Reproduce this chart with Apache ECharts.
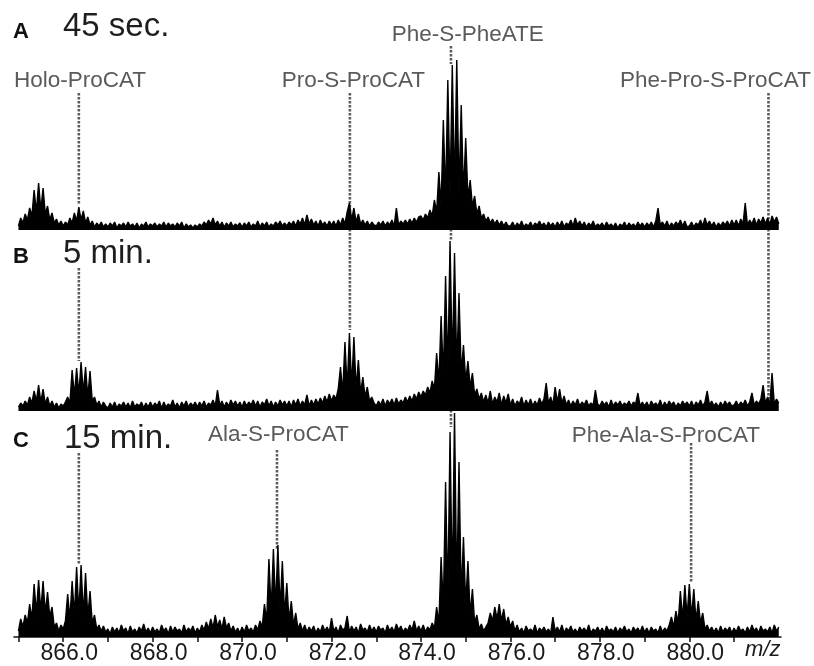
<!DOCTYPE html>
<html>
<head>
<meta charset="utf-8">
<script src="https://cdn.jsdelivr.net/npm/echarts@6/dist/echarts.min.js"></script>
<style>
  html, body { margin: 0; padding: 0; background: #fff; }
  #chart { width: 814px; height: 666px; }
</style>
</head>
<body>
<div id="chart"></div>
<script>
// m/z sampling grid shared by the three spectra
const MZ_START = 865.0;
const MZ_STEP = 0.05;

// Intensity (a.u.) per grid step; each row covers one m/z unit (865.00 ... 865.95, 866.00 ...)
const spectrumA = [
  4,12,7,16,10,22,14,40,18,47,20,42,16,24,10,17,7,11,5,9,
  4,8,5,12,7,17,9,23,10,19,7,13,5,9,3,7,4,8,3,6,
  3,7,4,8,2,6,4,7,3,8,4,6,3,7,2,6,4,8,3,6,
  4,7,3,6,4,8,3,7,4,6,3,7,4,8,2,6,3,5,2,5,
  3,6,4,8,5,10,6,12,5,9,4,8,3,7,4,8,3,6,4,7,
  3,7,4,8,3,6,4,9,3,7,4,8,3,6,4,8,5,9,4,7,
  4,8,5,9,4,10,6,12,5,15,6,11,5,9,4,10,5,8,4,9,
  5,9,4,10,5,12,6,18,27,10,22,8,16,6,10,5,9,4,8,5,
  4,8,5,9,4,8,5,10,4,22,5,9,6,10,6,11,7,12,8,13,
  14,10,16,12,20,14,30,18,58,24,110,32,150,36,165,40,170,38,125,36,
  92,32,50,24,34,16,24,12,16,9,13,7,11,6,10,5,9,4,8,4,
  4,8,3,7,4,9,3,6,4,8,3,7,5,9,4,7,3,8,4,7,
  3,8,4,9,3,7,5,10,4,12,5,9,4,8,3,7,4,9,3,6,
  4,7,3,8,4,6,3,7,2,6,4,8,3,7,4,6,3,8,4,7,
  3,7,4,8,3,9,22,5,8,4,9,3,7,4,8,5,10,4,9,3,
  4,8,3,7,5,10,4,12,5,9,4,8,3,7,4,8,5,9,4,10,
  5,10,4,11,6,27,5,10,6,12,5,11,7,13,6,12,5,14,8,13,
  6
];

const spectrumB = [
  4,8,5,10,6,14,8,20,10,26,9,22,7,14,5,10,4,8,3,7,
  5,9,14,8,41,15,43,17,49,18,44,14,40,10,14,6,10,4,9,5,
  3,8,4,9,3,7,5,9,4,8,3,10,4,7,5,9,3,8,4,9,
  4,8,5,10,3,9,4,7,5,11,4,8,3,9,5,10,4,8,5,9,
  4,9,5,10,4,8,6,11,5,21,6,10,4,9,5,11,6,10,5,9,
  4,10,5,9,6,11,5,10,4,9,6,12,5,10,4,9,5,11,6,10,
  5,10,4,11,6,12,5,10,6,16,5,11,6,12,7,13,8,15,9,17,
  10,16,12,22,44,18,69,22,78,24,74,22,51,18,34,14,24,10,14,8,
  5,10,6,12,5,11,7,12,6,13,7,11,8,14,9,15,10,17,12,19,
  14,20,16,24,18,30,22,58,28,95,34,135,40,170,44,158,42,118,38,66,
  30,50,24,38,16,22,12,18,9,16,8,20,7,14,9,18,6,15,8,17,
  6,12,5,10,7,14,5,11,6,12,5,10,6,13,7,12,28,8,14,6,
  24,9,22,8,15,6,11,5,10,6,12,5,9,6,11,5,8,6,21,7,
  5,10,6,9,4,11,5,9,6,10,5,8,6,10,5,9,7,18,5,9,
  5,9,4,10,6,8,5,11,4,9,5,10,6,9,4,8,5,10,6,9,
  5,10,4,9,6,11,5,9,20,6,10,5,8,4,9,5,10,6,9,5,
  6,10,5,9,6,11,5,9,18,6,10,7,12,26,8,14,6,38,7,12,
  8
];

const spectrumC = [
  6,18,10,22,14,33,18,53,24,57,26,56,24,45,20,30,10,14,6,12,
  8,16,43,18,56,22,70,24,72,22,64,20,46,14,22,8,12,6,11,5,
  8,3,10,5,9,4,12,6,9,3,11,5,8,4,10,6,13,5,9,4,
  10,5,8,4,12,6,9,3,11,5,10,6,8,4,12,5,9,6,11,4,
  9,5,12,7,15,8,18,9,22,10,17,8,20,9,14,6,11,5,9,4,
  10,5,12,6,9,5,12,7,16,10,33,16,78,26,88,30,92,28,76,22,
  54,16,36,12,24,8,14,6,12,5,10,6,11,4,9,5,12,6,10,5,
  19,6,10,4,12,7,9,21,5,11,6,10,4,13,7,9,5,12,6,10,
  5,11,7,9,4,12,6,10,5,13,7,11,5,9,6,12,7,16,6,11,
  6,12,5,10,7,14,9,30,14,80,30,155,38,205,44,224,46,175,40,100,
  32,76,22,48,14,22,8,13,6,10,14,24,16,30,18,33,16,28,12,20,
  10,16,6,12,5,9,4,11,6,8,5,12,4,9,6,10,5,8,4,20,
  6,10,5,12,4,9,6,11,5,8,4,10,6,9,5,12,4,8,6,10,
  5,9,4,11,6,8,5,10,4,9,6,11,5,8,4,10,6,9,5,11,
  5,9,4,10,6,8,4,11,5,9,6,12,20,10,26,14,46,18,52,20,
  53,20,48,16,36,14,24,8,12,6,10,5,9,4,11,5,9,6,10,4,
  9,5,11,6,8,4,10,5,12,6,9,4,11,6,8,5,10,4,12,6,
  10
];

// x axis: tick marks every 1 m/z, labels every 2 m/z
const tickMarks = [865, 866, 867, 868, 869, 870, 871, 872, 873, 874, 875, 876, 877, 878, 879, 880, 881];
const tickLabels = [866, 868, 870, 872, 874, 876, 878, 880];

// Panel captions
const panelLetters = ['A', 'B', 'C'];
const panelTimes = ['45 sec.', '5 min.', '15 min.'];

// Assigned species and their m/z
const peakNames = ['Holo-ProCAT', 'Pro-S-ProCAT', 'Phe-S-PheATE', 'Phe-Pro-S-ProCAT', 'Ala-S-ProCAT', 'Phe-Ala-S-ProCAT'];
const peakMz = [866.35, 872.41, 874.67, 881.77, 870.78, 880.04];

// ---------------- layout ----------------
const FONT = '"Liberation Sans", Arial, Helvetica, sans-serif';
const X_MIN = 864.9, X_MAX = 882.05;
const grids = [
  { left: 14, width: 767, top: 50, height: 180 },
  { left: 14, width: 767, top: 231, height: 180 },
  { left: 14, width: 767, top: 397, height: 240 }
];
const yMax = [180, 180, 240];
const spectra = [spectrumA, spectrumB, spectrumC];

// caption positions (left x, vertical centre)
const letterPos = [[13, 31.5], [13, 257], [13, 440.5]];
const timePos = [[63, 26.5], [63, 253.5], [64, 438.5]];
// peak label positions and dotted guide extents (pixel y ranges)
const peakLabelPos = [[14, 81], [281.7, 81], [391.7, 35], [620, 81], [208, 435], [571.7, 435.5]];
const peakGuides = [
  [[93, 205], [268, 361], [453, 565]],
  [[93, 330]],
  [[46, 64], [229, 241], [410, 427]],
  [[93, 403]],
  [[450, 550]],
  [[443, 583]]
];

function toPoints(arr) {
  return arr.map((v, i) => [+(MZ_START + i * MZ_STEP).toFixed(2), v]);
}

const chart = echarts.init(document.getElementById('chart'), null, { renderer: 'canvas' });

const xAxes = grids.map((g, k) => {
  const last = k === grids.length - 1;
  return {
    type: 'value',
    gridIndex: k,
    min: X_MIN,
    max: X_MAX,
    show: last,
    splitLine: { show: false },
    axisLine: { show: last, onZero: false, lineStyle: { color: '#111', width: 1.5 } },
    axisTick: {
      show: last,
      customValues: tickMarks,
      length: 5,
      inside: false,
      lineStyle: { color: '#111', width: 1.5 }
    },
    axisLabel: {
      show: last,
      customValues: tickLabels,
      formatter: v => Number(v).toFixed(1),
      fontFamily: FONT,
      fontSize: 23,
      color: '#1a1a1a',
      margin: 5,
      padding: [0, 0, 0, 12]
    }
  };
});

const yAxes = grids.map((g, k) => ({
  type: 'value',
  gridIndex: k,
  min: 0,
  max: yMax[k],
  show: false
}));

const series = spectra.map((s, k) => ({
  type: 'line',
  xAxisIndex: k,
  yAxisIndex: k,
  data: toPoints(s),
  showSymbol: false,
  symbol: 'none',
  smooth: false,
  lineStyle: { color: '#000', width: 1.4 },
  areaStyle: { color: '#000', opacity: 1 },
  z: 3,
  silent: true
}));

chart.setOption({
  animation: false,
  backgroundColor: '#fff',
  grid: grids,
  xAxis: xAxes,
  yAxis: yAxes,
  series: series
});

// captions, peak labels and dotted guides
const graphics = [];
panelLetters.forEach((t, k) => {
  graphics.push({
    type: 'text', x: letterPos[k][0], y: letterPos[k][1], z: 10,
    style: { text: t, font: 'bold 22px ' + FONT, fill: '#111', align: 'left', verticalAlign: 'middle' }
  });
  graphics.push({
    type: 'text', x: timePos[k][0], y: timePos[k][1], z: 10,
    style: { text: panelTimes[k], font: '33px ' + FONT, fill: '#1e1e1e', align: 'left', verticalAlign: 'middle' }
  });
});
peakNames.forEach((name, k) => {
  graphics.push({
    type: 'text', x: peakLabelPos[k][0], y: peakLabelPos[k][1], z: 10,
    style: { text: name, font: '22.5px ' + FONT, fill: '#5a5a5a', align: 'left', verticalAlign: 'middle' }
  });
  const px = chart.convertToPixel({ xAxisIndex: 0 }, peakMz[k]);
  peakGuides[k].forEach(seg => {
    graphics.push({
      type: 'line', z: 1,
      shape: { x1: px, y1: seg[0], x2: px, y2: seg[1] },
      style: { stroke: '#5c5c5c', lineWidth: 2.6, lineDash: [2.5, 1.5] }
    });
  });
});
graphics.push({
  type: 'text', x: 745, y: 650, z: 10,
  style: { text: 'm/z', font: 'italic 22px ' + FONT, fill: '#1a1a1a', align: 'left', verticalAlign: 'middle' }
});

chart.setOption({ graphic: graphics });
</script>
</body>
</html>
